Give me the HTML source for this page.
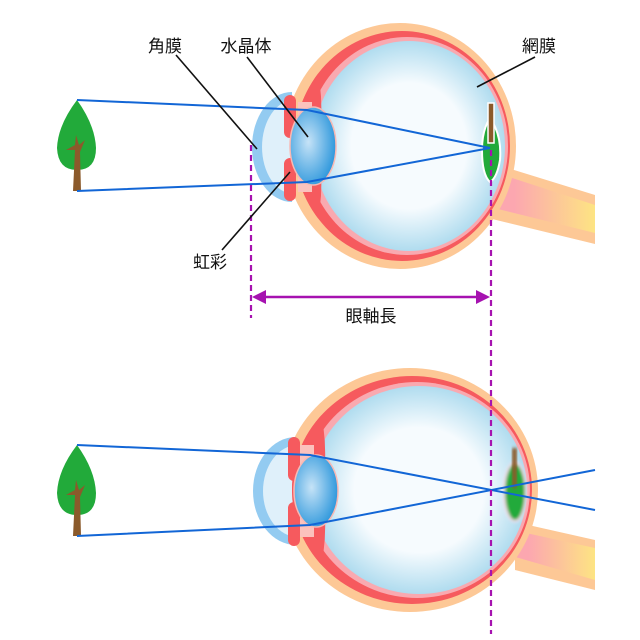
<!DOCTYPE html>
<html><head><meta charset="utf-8"><style>
html,body{margin:0;padding:0;background:#fff;width:640px;height:640px;overflow:hidden}
text{font-family:"Liberation Sans","Noto Sans CJK JP",sans-serif;fill:#111}
</style></head><body>
<svg width="640" height="640" viewBox="0 0 640 640" xmlns="http://www.w3.org/2000/svg">
<defs>
<radialGradient id="vit" cx="0.5" cy="0.5" r="0.5"><stop offset="0.6" stop-color="#f6fbfe"/><stop offset="1" stop-color="#b0dcef"/></radialGradient>
<radialGradient id="lens" cx="0.4" cy="0.45" r="0.6"><stop offset="0" stop-color="#c6e3f7"/><stop offset="1" stop-color="#2f98dc"/></radialGradient>
<linearGradient id="nerve" x1="0" y1="0" x2="1" y2="0"><stop offset="0.2" stop-color="#fca7b0"/><stop offset="1" stop-color="#fde483"/></linearGradient>
<filter id="blur"><feGaussianBlur stdDeviation="1.5"/></filter>
<clipPath id="c1"><ellipse cx="402" cy="146" rx="108" ry="115"/></clipPath>
<clipPath id="c2"><ellipse cx="412" cy="490" rx="120" ry="114"/></clipPath>
</defs>

<!-- Top eye -->
<polygon points="488,162 595,195 595,244 488,218" fill="#fdc896"/>
<polygon points="494,172 595,205 595,233 494,208" fill="url(#nerve)"/>
<ellipse cx="400" cy="146" rx="116" ry="123" fill="#fdc896"/>
<path d="M292,92 A40,55 0 0 0 292,202 Z" fill="#93cbf1"/>
<path d="M294,100 A32,47 0 0 0 294,194 Z" fill="#dff0fa"/>
<ellipse cx="402" cy="146" rx="108" ry="115" fill="#f65a5e"/>
<ellipse cx="407" cy="146" rx="101" ry="109" fill="#f9a9b0"/>
<ellipse cx="409" cy="146" rx="96" ry="105" fill="url(#vit)"/>
<path clip-path="url(#c1)" d="M290,60 L315,60 Q326,100 318,146 Q326,192 315,232 L290,232 Z" fill="#f65a5e"/>
<rect x="298" y="102" width="14" height="90" fill="#fbc2bd"/>
<rect x="284" y="95" width="12" height="43" rx="6" fill="#f65a5e"/>
<rect x="284" y="158" width="12" height="43" rx="6" fill="#f65a5e"/>
<ellipse cx="313" cy="146" rx="23" ry="39" fill="url(#lens)" stroke="#f8b9b4" stroke-width="1.5"/>
<path d="M490,118 Q502,135 500,160 Q497,178 490,182 Q482,175 482,150 Q482,130 490,118Z" fill="#22aa3a" stroke="#fff" stroke-width="2"/>
<rect x="488" y="103" width="6" height="40" fill="#8b5a2b" stroke="#fff" stroke-width="1.5"/>

<!-- Bottom eye -->
<polygon points="515,522 595,540 595,590 515,570" fill="#fdc896"/>
<polygon points="512,530 595,548 595,580 512,556" fill="url(#nerve)"/>
<ellipse cx="410" cy="490" rx="128" ry="122" fill="#fdc896"/>
<path d="M296,437 A43,54 0 0 0 296,545 Z" fill="#93cbf1"/>
<path d="M298,445 A35,46 0 0 0 298,537 Z" fill="#dff0fa"/>
<ellipse cx="412" cy="490" rx="120" ry="114" fill="#f65a5e"/>
<ellipse cx="417" cy="490" rx="113" ry="108" fill="#f9a9b0"/>
<ellipse cx="419" cy="490" rx="108" ry="104" fill="url(#vit)"/>
<path clip-path="url(#c2)" d="M292,400 L318,400 Q330,445 322,490 Q330,535 318,580 L292,580 Z" fill="#f65a5e"/>
<rect x="300" y="445" width="14" height="92" fill="#fbc2bd"/>
<rect x="288" y="437" width="12" height="44" rx="6" fill="#f65a5e"/>
<rect x="288" y="502" width="12" height="44" rx="6" fill="#f65a5e"/>
<ellipse cx="316" cy="491" rx="22" ry="36" fill="url(#lens)" stroke="#f8b9b4" stroke-width="1.5"/>
<ellipse cx="515" cy="492" rx="11" ry="29" fill="#22aa3a" filter="url(#blur)" stroke="#fde" stroke-width="2"/>
<rect x="512" y="448" width="5" height="40" fill="#8b5a2b" filter="url(#blur)"/>

<!-- Trees -->
<g>
<path d="M77,100 Q58,125 57,148 Q58,170 77,170 Q96,170 96,148 Q95,125 77,100Z" fill="#22aa3a"/>
<path d="M73,191 L75,150 L66,150 L75,145 L76,135 L79,145 L85,140 L80,152 L81,191Z" fill="#8b5a2b"/>
</g>
<g transform="translate(0,345)">
<path d="M77,100 Q58,125 57,148 Q58,170 77,170 Q96,170 96,148 Q95,125 77,100Z" fill="#22aa3a"/>
<path d="M73,191 L75,150 L66,150 L75,145 L76,135 L79,145 L85,140 L80,152 L81,191Z" fill="#8b5a2b"/>
</g>

<!-- rays -->
<g fill="none" stroke="#1266d6" stroke-width="2">
<polyline points="77,100 307,110 490,148"/>
<polyline points="77,191 307,182 490,148"/>
<polyline points="77,445 310,455 595,510"/>
<polyline points="77,536 310,525 595,470"/>
</g>

<!-- dashed lines -->
<g stroke="#a612b0" stroke-width="2.2" stroke-dasharray="6,4">
<line x1="251" y1="145" x2="251" y2="318"/>
<line x1="491" y1="150" x2="491" y2="634"/>
</g>
<line x1="262" y1="297" x2="480" y2="297" stroke="#a612b0" stroke-width="2.5"/>
<polygon points="252,297 266,290 266,304" fill="#a612b0"/>
<polygon points="490,297 476,290 476,304" fill="#a612b0"/>

<!-- leaders -->
<g stroke="#111" stroke-width="1.6">
<line x1="176" y1="55" x2="257" y2="149"/>
<line x1="247" y1="57" x2="308" y2="137"/>
<line x1="535" y1="57" x2="477" y2="87"/>
<line x1="222" y1="250" x2="290" y2="172"/>
</g>

<text x="165" y="52" font-size="17" text-anchor="middle">角膜</text>
<text x="246" y="52" font-size="17" text-anchor="middle">水晶体</text>
<text x="539" y="52" font-size="17" text-anchor="middle">網膜</text>
<text x="210" y="268" font-size="17" text-anchor="middle">虹彩</text>
<text x="371" y="322" font-size="17" text-anchor="middle">眼軸長</text>
</svg>
</body></html>
